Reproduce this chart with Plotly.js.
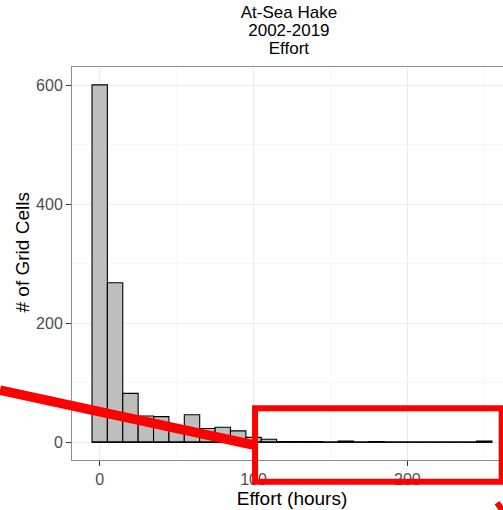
<!DOCTYPE html>
<html>
<head>
<meta charset="utf-8">
<script src="https://cdn.plot.ly/plotly-3.0.1.min.js"></script>
<style>
  html, body { margin: 0; padding: 0; overflow: hidden; background: #fff; }
  #chart { width: 520px; height: 510px; }
</style>
</head>
<body>
<div id="chart"></div>
<script>
// ---- data ----
var binCenters = [0, 10, 20, 30, 40, 50, 60, 70, 80, 90, 100, 110, 120, 130, 140, 150, 160, 170, 180, 190, 200, 210, 220, 230, 240, 250];
var counts     = [601, 268, 82, 44, 43, 20, 46, 23, 25, 19, 8, 5, 1, 1, 1, 0, 2, 0, 1, 0, 0, 0, 0, 0, 0, 2];
var binWidth = 10;
var xTickVals = [0, 100, 200];
var yTickVals = [0, 200, 400, 600];
var titleLines = ["At-Sea Hake", "2002-2019", "Effort"];
var xTitle = "Effort (hours)";
var yTitle = "# of Grid Cells";

var FONT = '"Liberation Sans", Arial, Helvetica, sans-serif';

var bars = {
  type: 'bar',
  x: binCenters,
  y: counts,
  width: binWidth,
  marker: { color: '#BEBEBE', line: { color: '#000000', width: 1.1 } },
  hoverinfo: 'x+y',
  showlegend: false
};

// outline of empty bins (ggplot draws zero-height bars as a line)
var firstEdge = binCenters[0] - binWidth / 2;
var lastEdge = binCenters[binCenters.length - 1] + binWidth / 2;
var zeroBins = {
  type: 'scatter',
  mode: 'lines',
  x: [firstEdge, lastEdge],
  y: [0, 0],
  line: { color: '#000000', width: 1.1 },
  hoverinfo: 'skip',
  showlegend: false
};

var titleText = titleLines.map(function (t) {
  return '<span style="font-size:17px">' + t + '</span>';
}).join('<br>');

var red = '#FF0000';

var layout = {
  width: 520,
  height: 510,
  margin: { l: 72, r: 8, t: 67, b: 50, pad: 0 },
  paper_bgcolor: '#FFFFFF',
  plot_bgcolor: '#FFFFFF',
  font: { family: FONT, color: '#000000' },
  showlegend: false,
  bargap: 0,
  title: {
    text: titleText,
    font: { family: FONT, size: 14, color: '#000000' },
    x: 0.493, xref: 'paper', xanchor: 'center',
    y: 0.9646, yref: 'container', yanchor: 'top'
  },
  xaxis: {
    range: [-18, 268],
    tickmode: 'array',
    tickvals: xTickVals,
    ticktext: xTickVals.map(String),
    ticks: 'outside', ticklen: 5, tickwidth: 1, tickcolor: '#333333',
    tickfont: { family: FONT, size: 16, color: '#4D4D4D' },
    showgrid: true, gridcolor: '#EBEBEB', gridwidth: 1,
    minor: { tickmode: 'array', tickvals: [50, 150, 250], showgrid: true, gridcolor: '#F4F4F4', gridwidth: 0.7, ticks: '' },
    zeroline: false,
    showline: true, mirror: true, linecolor: '#8E8E8E', linewidth: 1,
    title: { text: xTitle, font: { family: FONT, size: 19, color: '#000000' }, standoff: 2 },
    automargin: false,
    fixedrange: true
  },
  yaxis: {
    range: [-30, 631],
    tickmode: 'array',
    tickvals: yTickVals,
    ticktext: yTickVals.map(String),
    ticks: 'outside', ticklen: 5, tickwidth: 1, tickcolor: '#333333',
    tickfont: { family: FONT, size: 16, color: '#4D4D4D' },
    showgrid: true, gridcolor: '#EBEBEB', gridwidth: 1,
    minor: { tickmode: 'array', tickvals: [100, 300, 500], showgrid: true, gridcolor: '#F4F4F4', gridwidth: 0.7, ticks: '' },
    zeroline: false,
    showline: true, mirror: true, linecolor: '#8E8E8E', linewidth: 1,
    automargin: false,
    fixedrange: true
  },
  annotations: [
    {
      text: yTitle, textangle: -90,
      xref: 'paper', yref: 'paper', x: -0.1114, y: 0.528,
      xanchor: 'center', yanchor: 'middle', showarrow: false,
      font: { family: FONT, size: 19, color: '#000000' }
    }
  ],
  shapes: [
    // red highlight box
    { type: 'rect', xref: 'paper', yref: 'paper', x0: 0.416, x1: 0.9766, y0: -0.0552, y1: 0.1315,
      line: { color: red, width: 6 }, fillcolor: 'rgba(0,0,0,0)', layer: 'above' },
    // red pointer line
    { type: 'line', xref: 'paper', yref: 'paper', x0: -0.1636, y0: 0.1780, x1: 0.4182, y1: 0.0369,
      line: { color: red, width: 9.5 }, layer: 'above' },
    // small red mark at lower right
    { type: 'line', xref: 'paper', yref: 'paper', x0: 0.966, y0: -0.109, x1: 0.986, y1: -0.14,
      line: { color: red, width: 6 }, layer: 'above' }
  ]
};

Plotly.newPlot('chart', [zeroBins, bars], layout, { displayModeBar: false, staticPlot: true });
</script>
</body>
</html>
